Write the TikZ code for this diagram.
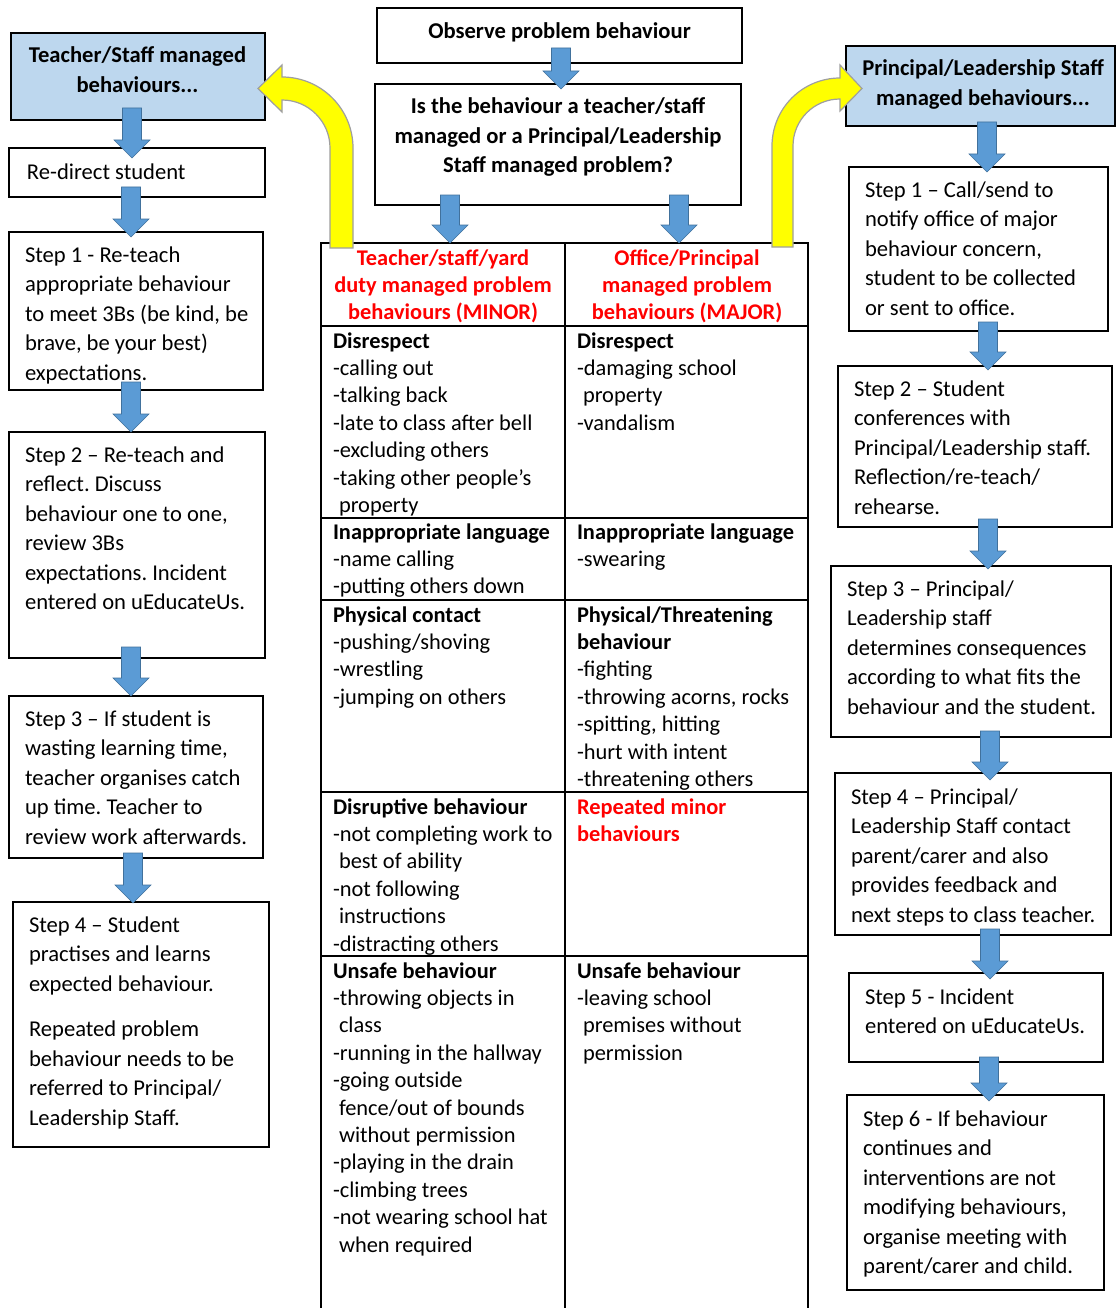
\documentclass[tikz,border=0pt]{standalone}
\usepackage{fontspec}
\setmainfont{Carlito}
\usetikzlibrary{calc}
\frenchspacing
\definecolor{hdrblue}{RGB}{189,215,238}
\definecolor{arrblue}{RGB}{91,155,213}
\definecolor{arrline}{RGB}{65,113,156}
\definecolor{yel}{RGB}{255,255,0}
\newcommand\fs{\rule{0pt}{22pt}}
\newcommand\stepfont{\fontsize{22.6}{29.5}\selectfont\frenchspacing}
\newcommand\tabfont{\fontsize{22.4}{27.4}\selectfont\frenchspacing}
\newcommand\ind{\hspace*{6pt}}
\newcommand\barrow[5]{%
  \path[bluearrow] let \p1=(#1.south), \p2=(#2.north) in
  ({#3pt-9.5pt},{\y1+#4pt}) -- ({#3pt+9.5pt},{\y1+#4pt}) --
  ({#3pt+9.5pt},{\y2-#5pt+18pt}) -- ({#3pt+18pt},{\y2-#5pt+18pt}) --
  ({#3pt},{\y2-#5pt}) -- ({#3pt-18pt},{\y2-#5pt+18pt}) --
  ({#3pt-9.5pt},{\y2-#5pt+18pt}) -- cycle;}
\tikzset{
  box/.style={draw=black, line width=1.5pt, inner sep=0pt, outer sep=0pt, anchor=north west},
  hdr/.style={box, fill=hdrblue},
  cell/.style={draw=black, line width=1.5pt, inner sep=0pt, outer sep=0pt, anchor=north west},
  steptext/.style={anchor=north west, inner sep=0pt, outer sep=0pt, align=left, font=\stepfont},
  boldtext/.style={anchor=north, inner sep=0pt, outer sep=0pt, align=center, font=\stepfont\bfseries},
  tabtext/.style={anchor=north west, inner sep=0pt, outer sep=0pt, align=left, font=\tabfont},
  redhead/.style={anchor=north, inner sep=0pt, outer sep=0pt, align=center, font=\tabfont\bfseries, text=red},
  bluearrow/.style={fill=arrblue, draw=arrline, line width=0.6pt},
  yellowarrow/.style={fill=yel, draw=gray!75, line width=1.2pt},
}
\begin{document}
\begin{tikzpicture}[x=1pt, y=-1pt]
\path[use as bounding box, fill=white] (0,0) rectangle (1116,1308);
\clip (0,0) rectangle (1116,1308);

% ---------- table ----------
\node[cell, minimum width=244pt, minimum height=83pt] (th1) at (321,243) {};
\node[cell, minimum width=243pt, minimum height=83pt] (th2) at (565,243) {};
\node[cell, minimum width=244pt, minimum height=192pt] (c11) at (321,326) {};
\node[cell, minimum width=243pt, minimum height=192pt] (c12) at (565,326) {};
\node[cell, minimum width=244pt, minimum height=82pt] (c21) at (321,518) {};
\node[cell, minimum width=243pt, minimum height=82pt] (c22) at (565,518) {};
\node[cell, minimum width=244pt, minimum height=192pt] (c31) at (321,600) {};
\node[cell, minimum width=243pt, minimum height=192pt] (c32) at (565,600) {};
\node[cell, minimum width=244pt, minimum height=164pt] (c41) at (321,792) {};
\node[cell, minimum width=243pt, minimum height=164pt] (c42) at (565,792) {};
\node[cell, minimum width=244pt, minimum height=370pt] (c51) at (321,956) {};
\node[cell, minimum width=243pt, minimum height=370pt] (c52) at (565,956) {};

\node[redhead] (th1t) at (443,243) {\fs Teacher/staff/yard\\duty managed problem\\behaviours (MINOR)};
\node[redhead] (th2t) at (687,243) {\fs Office/Principal\\managed problem\\behaviours (MAJOR)};

\node[tabtext] (c11t) at (333,326) {\fs\textbf{Disrespect}\\-calling out\\-talking back\\-late to class after bell\\-excluding others\\-taking other people’s\\\ind property};
\node[tabtext] (c12t) at (577,326) {\fs\textbf{Disrespect}\\-damaging school\\\ind property\\-vandalism};
\node[tabtext] (c21t) at (333,517) {\fs\textbf{Inappropriate language}\\-name calling\\-putting others down};
\node[tabtext] (c22t) at (577,517) {\fs\textbf{Inappropriate language}\\-swearing};
\node[tabtext] (c31t) at (333,600) {\fs\textbf{Physical contact}\\-pushing/shoving\\-wrestling\\-jumping on others};
\node[tabtext] (c32t) at (577,600) {\fs\textbf{Physical/Threatening}\\\textbf{behaviour}\\-fighting\\-throwing acorns, rocks\\-spitting, hitting\\-hurt with intent\\-threatening others};
\node[tabtext] (c41t) at (333,792) {\fs\textbf{Disruptive behaviour}\\-not completing work to\\\ind best of ability\\-not following\\\ind instructions\\-distracting others};
\node[tabtext, text=red, font=\tabfont\bfseries] (c42t) at (577,792) {\fs Repeated minor\\behaviours};
\node[tabtext] (c51t) at (333,956) {\fs\textbf{Unsafe behaviour}\\-throwing objects in\\\ind class\\-running in the hallway\\-going outside\\\ind fence/out of bounds\\\ind without permission\\-playing in the drain\\-climbing trees\\-not wearing school hat\\\ind when required};
\node[tabtext] (c52t) at (577,956) {\fs\textbf{Unsafe behaviour}\\-leaving school\\\ind premises without\\\ind permission};

% ---------- centre ----------
\node[box, minimum width=365pt, minimum height=55pt] (obs) at (377,8) {};
\node[boldtext] (obst) at (559.5,17) {\fs Observe problem behaviour};
\node[box, minimum width=366pt, minimum height=121pt] (isb) at (375,84) {};
\node[boldtext] (isbt) at (558,92) {\fs Is the behaviour a teacher/staff\\managed or a Principal/Leadership\\Staff managed problem?};

% ---------- left column ----------
\node[hdr, minimum width=254pt, minimum height=87pt] (lh) at (11,33) {};
\node[boldtext] (lht) at (137.5,41) {\fs Teacher/Staff managed\\behaviours...};
\node[box, minimum width=256pt, minimum height=49pt] (rd) at (9,148) {};
\node[steptext] (rdt) at (27,157) {\fs Re-direct student};
\node[box, minimum width=254pt, minimum height=158pt] (ls1) at (9,232) {};
\node[steptext] (ls1t) at (25,240) {\fs Step 1 - Re-teach\\appropriate behaviour\\to meet 3Bs (be kind, be\\brave, be your best)\\expectations.};
\node[box, minimum width=256pt, minimum height=226pt] (ls2) at (9,432) {};
\node[steptext] (ls2t) at (25,440) {\fs Step 2 -- Re-teach and\\reflect. Discuss\\behaviour one to one,\\review 3Bs\\expectations. Incident\\entered on uEducateUs.};
\node[box, minimum width=254pt, minimum height=162pt] (ls3) at (9,696) {};
\node[steptext] (ls3t) at (25,704) {\fs Step 3 -- If student is\\wasting learning time,\\teacher organises catch\\up time. Teacher to\\review work afterwards.};
\node[box, minimum width=256pt, minimum height=245pt] (ls4) at (13,902) {};
\node[steptext] (ls4t) at (29,910) {\fs Step 4 -- Student\\practises and learns\\expected behaviour.\\[16pt]Repeated problem\\behaviour needs to be\\referred to Principal/\\Leadership Staff.};

% ---------- right column ----------
\node[hdr, minimum width=269pt, minimum height=80pt] (rh) at (846,46) {};
\node[boldtext] (rht) at (983,54) {\fs Principal/Leadership Staff\\managed behaviours...};
\node[box, minimum width=259pt, minimum height=164pt] (rs1) at (849,167) {};
\node[steptext] (rs1t) at (865,175) {\fs Step 1 -- Call/send to\\notify office of major\\behaviour concern,\\student to be collected\\or sent to office.};
\node[box, minimum width=274pt, minimum height=161pt] (rs2) at (838,366) {};
\node[steptext] (rs2t) at (854,374) {\fs Step 2 -- Student\\conferences with\\Principal/Leadership staff.\\Reflection/re-teach/\\rehearse.};
\node[box, minimum width=280pt, minimum height=171pt] (rs3) at (831,566) {};
\node[steptext] (rs3t) at (847,574) {\fs Step 3 -- Principal/\\Leadership staff\\determines consequences\\according to what fits the\\behaviour and the student.};
\node[box, minimum width=276pt, minimum height=162pt] (rs4) at (835,773) {};
\node[steptext] (rs4t) at (851,782) {\fs Step 4 -- Principal/\\Leadership Staff contact\\parent/carer and also\\provides feedback and\\next steps to class teacher.};
\node[box, minimum width=254pt, minimum height=89pt] (rs5) at (849,973) {};
\node[steptext] (rs5t) at (865,982) {\fs Step 5 - Incident\\entered on uEducateUs.};
\node[box, minimum width=257pt, minimum height=195pt] (rs6) at (847,1095) {};
\node[steptext] (rs6t) at (863,1104) {\fs Step 6 - If behaviour\\continues and\\interventions are not\\modifying behaviours,\\organise meeting with\\parent/carer and child.};

% ---------- blue arrows ----------
\barrow{obs}{isb}{561}{15}{5}
\barrow{isb}{th1}{450}{10}{0}
\barrow{isb}{th2}{679}{10}{0}
\barrow{lh}{rd}{132}{12}{10}
\barrow{rd}{ls1}{131}{10}{5}
\barrow{ls1}{ls2}{131}{8}{0}
\barrow{ls2}{ls3}{131}{11}{0}
\barrow{ls3}{ls4}{133}{5}{1}
\barrow{rh}{rs1}{987}{4}{5}
\barrow{rs1}{rs2}{988}{9}{4}
\barrow{rs2}{rs3}{988}{8}{3}
\barrow{rs3}{rs4}{990}{6}{7}
\barrow{rs4}{rs5}{990}{6}{6}
\barrow{rs5}{rs6}{989}{5}{6}

% ---------- yellow arrows ----------
\begin{scope}[shift={(th1.north west)}]
\path[yellowarrow] (9,5) -- (32,5) -- (32,-95)
  .. controls (32,-134.2) and (0.2,-166) .. (-39,-166)
  -- (-39,-178) -- (-63,-154.5) -- (-39,-131) -- (-39,-143)
  .. controls (-12.5,-143) and (9,-121.5) .. (9,-95) -- cycle;
\end{scope}
\begin{scope}[shift={(th2.north east)}]
\path[yellowarrow] (-36,4) -- (-36,-97)
  .. controls (-36,-134.6) and (-5.6,-165) .. (32,-165)
  -- (32,-178) -- (54,-154.5) -- (32,-132) -- (32,-144)
  .. controls (6,-144) and (-15,-123) .. (-15,-97) -- (-15,4) -- cycle;
\end{scope}
\end{tikzpicture}
\end{document}
